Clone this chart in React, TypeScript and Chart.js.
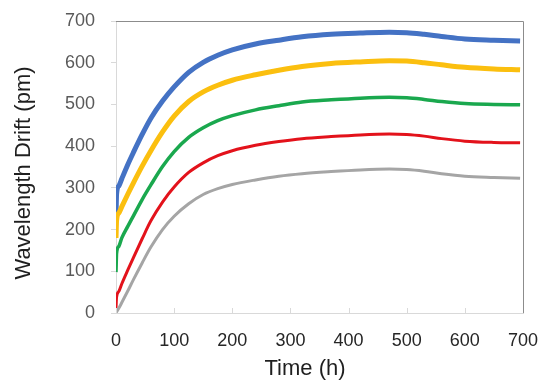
import React, { useEffect, useRef } from "react";
import { Chart, registerables } from "chart.js";

Chart.register(...registerables);

const times = [0, 1, 5, 10, 20, 30, 45, 60, 80, 100, 125, 150, 175, 200, 240, 280, 320, 370, 420, 470, 500, 530, 560, 600, 650, 695];
const blue = [231, 285, 305, 322, 355, 385, 428, 467, 508, 542, 577, 601, 618, 631, 645, 654, 662, 668, 671, 673, 672, 668, 663, 657, 654, 652];
const yellow = [180, 222, 240, 255, 284, 312, 352, 389, 434, 472, 507, 530, 546, 558, 571, 582, 591, 598, 602, 605, 604, 600, 595, 589, 585, 583];
const green = [98, 143, 160, 180, 207, 233, 272, 307, 351, 387, 421, 444, 461, 473, 487, 497, 506, 511, 515, 517, 516, 512, 507, 502, 500, 499];
const red = [12, 38, 52, 70, 102, 133, 178, 221, 266, 302, 337, 360, 377, 389, 402, 411, 418, 423, 427, 429, 428, 424, 418, 412, 409, 408];
const gray = [0, 3, 12, 25, 52, 80, 120, 158, 200, 232, 262, 284, 298, 308, 319, 328, 334, 339, 343, 345, 344, 340, 334, 328, 325, 323];
const xTicks = [0, 100, 200, 300, 400, 500, 600, 700];
const xTitle = "Time (h)";
const yTitle = "Wavelength Drift (pm)";

const FONT = "'Liberation Sans', Arial, sans-serif";

const frame = {
  id: "frame",
  afterDatasetsDraw(chart: any) {
    const { ctx, chartArea } = chart;
    const xs = chart.scales.x;
    ctx.save();
    ctx.strokeStyle = "#d9d9d9";
    ctx.lineWidth = 1;
    for (const v of xTicks) {
      const px = Math.round(xs.getPixelForValue(v)) + 0.5;
      ctx.beginPath();
      ctx.moveTo(px, chartArea.bottom);
      ctx.lineTo(px, chartArea.bottom - 5);
      ctx.stroke();
    }
    ctx.strokeStyle = "#8c8c8c";
    ctx.beginPath();
    ctx.moveTo(chartArea.left, chartArea.top + 0.5);
    ctx.lineTo(chartArea.right + 0.5, chartArea.top + 0.5);
    ctx.lineTo(chartArea.right + 0.5, chartArea.bottom);
    ctx.stroke();

    ctx.fillStyle = "#1f1f1f";
    ctx.font = `22px ${FONT}`;
    ctx.textAlign = "center";
    ctx.textBaseline = "middle";
    ctx.fillText(xTitle, 305, 369);
    ctx.translate(24, 173);
    ctx.rotate(-Math.PI / 2);
    ctx.fillText(yTitle, 0, 0);
    ctx.restore();
  },
};

function mk(label: string, vals: number[], color: string, w: number) {
  return {
    label,
    data: times.map((t, i) => ({ x: t, y: vals[i] })),
    borderColor: color,
    backgroundColor: color,
    borderWidth: w,
    pointRadius: 0,
    cubicInterpolationMode: "monotone" as const,
    fill: false,
  };
}

export default function App() {
  const ref = useRef<HTMLCanvasElement>(null);
  useEffect(() => {
    const chart = new Chart(ref.current!, {
      type: "line",
      data: {
        datasets: [
          mk("gray", gray, "#a5a5a5", 3),
          mk("red", red, "#e3121b", 3),
          mk("green", green, "#1aa84e", 3.5),
          mk("yellow", yellow, "#fbbf0f", 5),
          mk("blue", blue, "#4472c4", 5),
        ],
      },
      options: {
        animation: false,
        responsive: false,
        layout: { padding: { left: 12, top: 21, right: 27, bottom: 9 } },
        plugins: { legend: { display: false }, tooltip: { enabled: false } },
        scales: {
          x: {
            type: "linear",
            min: 0,
            max: 700,
            ticks: { stepSize: 100, color: "#262626", padding: 17, font: { family: FONT, size: 18 }, maxRotation: 0 },
            grid: { display: false, drawTicks: false },
            border: { color: "#d9d9d9", width: 1 },
            afterFit: (s: any) => {
              s.height = 70;
              s.paddingLeft = 0;
              s.paddingRight = 0;
            },
          },
          y: {
            type: "linear",
            min: 0,
            max: 700,
            ticks: { stepSize: 100, color: "#595959", padding: 16, font: { family: FONT, size: 18 } },
            grid: { drawOnChartArea: false, drawTicks: true, tickLength: 5, color: "#d9d9d9" },
            border: { color: "#d9d9d9", width: 1 },
            afterFit: (s: any) => {
              s.width = 116 - 12;
              s.paddingTop = 0;
              s.paddingBottom = 0;
            },
          },
        },
      },
      plugins: [frame],
    });
    return () => chart.destroy();
  }, []);
  return (
    <div style={{ position: "fixed", left: 0, top: 0, width: 550, height: 392, background: "#fff" }}>
      <canvas ref={ref} width={550} height={392} />
    </div>
  );
}
